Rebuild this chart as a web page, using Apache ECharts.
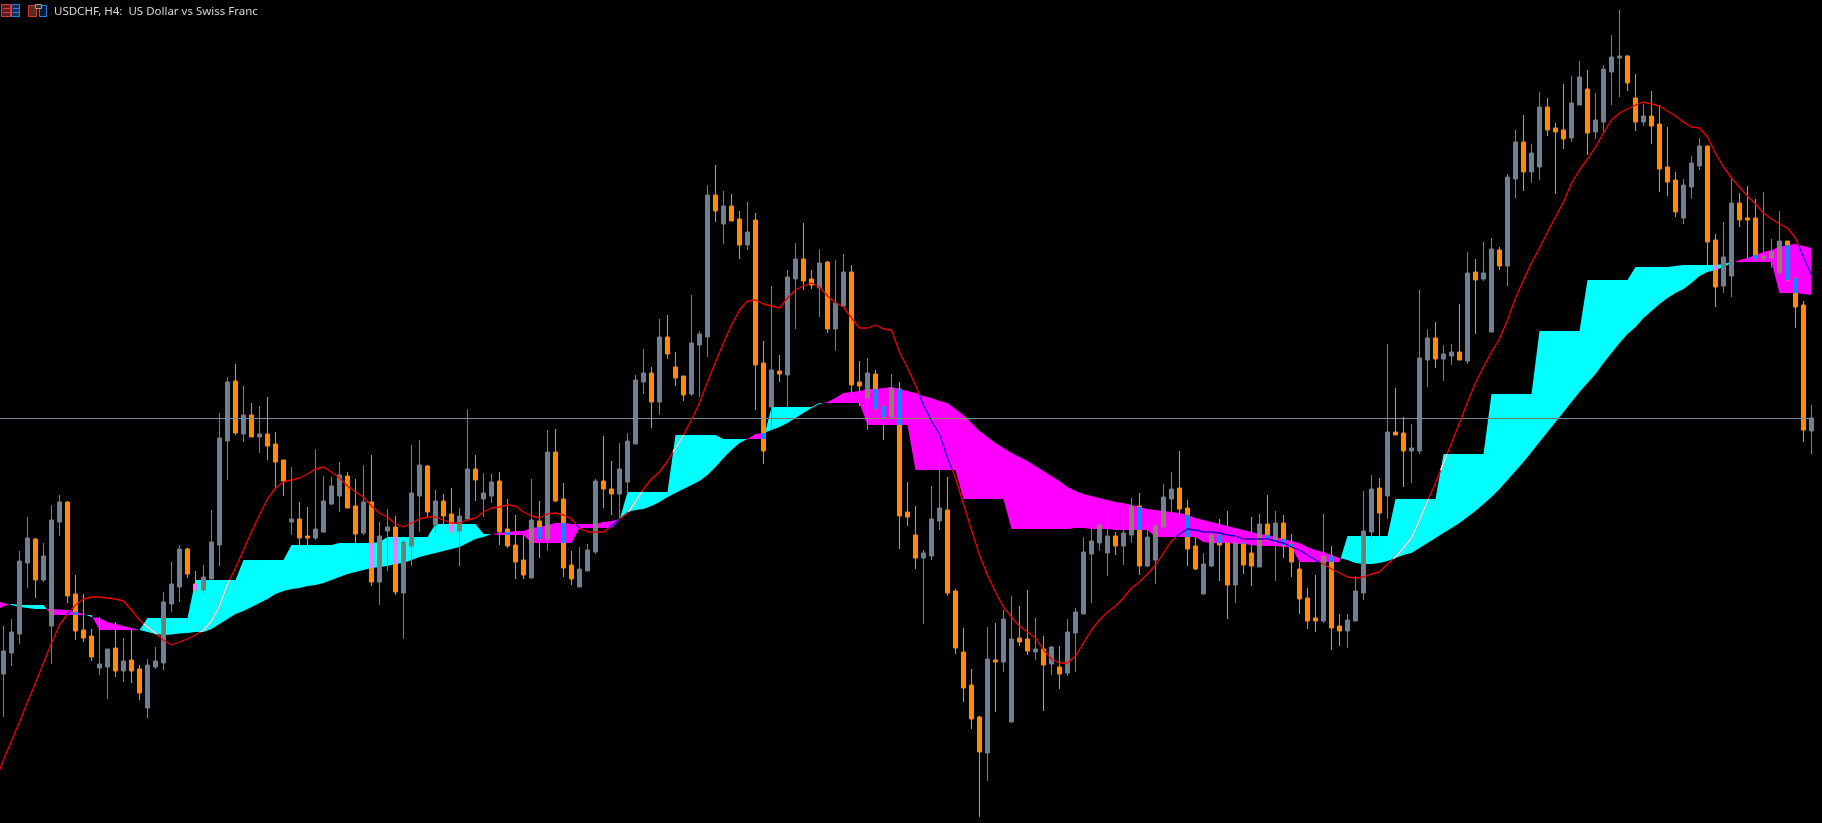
<!DOCTYPE html>
<html>
<head>
<meta charset="utf-8">
<title>USDCHF, H4</title>
<style>html,body{margin:0;padding:0;background:#000;overflow:hidden}#c{width:1822px;height:823px}</style>
<script src="https://cdn.jsdelivr.net/npm/echarts@6/dist/echarts.min.js"></script>
</head>
<body>
<div id="c"></div>
<script>
// Chart shows no price axis: values are in nominal points of the hidden price scale.
const chartTitle = 'USDCHF, H4:  US Dollar vs Swiss Franc';
const currentPrice = 404.5;
const opens = [
149,170,189,260,284,243,197,301,321,229,
193,187,155,156,175,152,163,154,115,156,
160,219,236,274,239,233,244,278,382,442,
389,408,386,389,379,363,301,304,287,285,
291,319,327,347,317,290,321,241,292,296,
230,277,327,357,298,322,309,292,304,354,
324,327,342,294,278,263,245,302,284,371,
324,258,236,252,271,342,334,329,341,379,
441,450,421,486,456,447,429,478,486,628,
599,617,604,578,603,460,416,452,448,544,
564,544,535,561,494,517,551,441,425,449,
417,406,434,311,288,265,267,302,313,232,
171,138,106,70,163,161,101,185,184,171,
174,159,156,150,190,209,269,280,270,287,
277,288,317,257,263,296,324,335,315,277,
229,257,288,280,238,280,270,256,299,281,
300,279,254,225,205,202,267,197,192,202,
230,291,335,327,391,390,372,372,463,485,
464,467,471,462,551,544,491,573,557,644,
681,651,656,716,695,693,685,718,734,691,
701,751,765,767,725,701,707,699,656,643,
605,636,657,677,583,537,547,620,605,605,
564,565,550,582,545,518,392];
const closes = [
172,191,262,285,243,267,303,321,227,192,
185,166,159,174,152,162,152,130,158,162,
221,239,274,249,233,246,281,385,441,390,
408,386,389,377,361,342,304,285,285,294,
322,337,348,315,289,321,241,287,296,231,
281,330,358,311,322,307,291,307,354,343,
330,341,291,277,261,248,303,284,371,322,
255,244,254,273,342,334,329,354,382,443,
450,421,486,469,445,428,480,489,628,612,
617,602,578,591,458,372,453,449,546,564,
542,538,560,494,520,551,438,437,450,414,
406,435,307,306,265,270,304,315,230,175,
135,104,71,164,161,204,184,181,172,174,
158,176,149,191,211,271,282,298,287,277,
290,317,257,286,297,326,334,314,274,254,
259,288,278,238,280,258,257,299,283,300,
278,261,224,202,202,267,195,192,203,232,
292,334,310,391,388,372,375,465,485,464,
469,471,463,550,543,550,574,557,646,681,
651,670,716,693,691,684,720,746,690,703,
754,766,767,740,701,707,697,654,641,611,
638,660,677,581,536,566,620,603,603,564,
567,571,582,543,516,393,405];
const lows = [
106,157,179,235,225,241,159,287,220,183,
181,162,148,124,146,141,140,123,105,154,
153,211,221,245,218,230,244,257,343,388,
381,386,370,363,334,327,288,277,259,283,
290,318,311,315,261,288,237,218,252,228,
184,257,291,305,290,289,281,257,304,322,
306,320,278,275,244,244,245,265,272,321,
246,238,236,252,269,315,308,305,329,379,
429,395,408,464,437,422,427,426,466,601,
579,602,564,573,413,359,394,441,415,494,
533,534,506,490,472,517,421,417,393,409,
383,405,274,297,254,199,263,293,227,169,
121,94,6,42,111,151,101,177,168,163,
112,148,134,147,151,209,220,272,247,268,
258,280,248,256,239,296,311,304,257,253,
229,256,242,204,220,249,237,256,283,242,
265,246,209,194,191,200,173,177,175,202,
223,284,273,304,388,336,340,369,436,455,
442,458,463,459,489,542,491,553,537,625,
632,640,643,687,629,674,681,718,668,684,
691,718,726,732,692,697,679,631,627,606,
599,624,653,558,516,530,526,596,561,563,
564,555,550,543,495,381,369];
const highs = [
197,204,272,306,285,280,318,328,322,248,
229,194,206,174,201,185,194,158,164,176,
231,261,278,275,252,258,313,410,446,459,
437,420,417,426,391,363,356,321,316,374,
347,346,361,351,344,358,368,301,314,307,
283,378,383,358,333,329,335,315,414,368,
350,349,351,324,308,288,344,322,393,394,
340,272,276,279,344,387,362,380,390,448,
474,456,504,508,471,447,528,492,638,658,
632,629,612,621,610,482,537,468,553,580,
600,553,574,562,563,569,558,462,465,453,
423,449,441,341,317,273,337,365,346,234,
195,154,107,196,200,213,227,217,233,205,
187,177,177,204,215,286,294,300,315,291,
315,325,330,298,308,339,351,372,323,286,
270,293,304,312,293,283,306,309,328,312,
308,289,261,235,248,309,277,209,209,247,
332,348,345,479,435,406,399,533,494,501,
478,479,519,571,564,581,585,576,649,693,
708,679,731,725,700,739,747,762,753,730,
758,788,813,768,749,719,732,718,696,651,
644,667,685,677,589,601,645,630,637,624,
631,584,612,582,579,522,418];
// The three lines below begin one bar left of the first visible candle.
const spanSmooth = [
223,220,218,216,215,214,214,214,213.5,213,211,209,206,205,201,199,197,195,193,191,189,188,188.5,189.5,190,
191,191,194,199,204,209,212,216,220,224,229,232,234,235,237,238,240,243,246,249,251,253,255,256,257,259,260,
263,266,268,270,272,274,276,280,284,286,289,290,291,292,292,295,296,298,300,300,299,299,299,299,301,302,304,
311,313,314,317,321,326,330,334,338,342,348,356,365,373,380,384,389,390,393,396,400,405,410,415,419,421,425,
430,431,432,434,434,435,436,434,432,430,427,425,422,420,414,408,400,392,386,380,375,370,366,362,357,352,347,
342,336,332,329,327,325,323,321,320,318,316,314,313,312,311,310,308,305,303,301,299,297,295,293,291,289,288,
286,284,282,280,276,273,271,268,265,263,260,259,259,260,262,265,268,270,275,280,285,290,295,300,306,312,319,
326,334,343,352,361,371,381,391,401,411,421,431,440,449,460,470,480,489,496,505,512,519,525,530,534,540,547,
551,553,556,560,563,565,568,571,573,576,578,579,577,575];
const spanStep = [
212,217,219,218,218,218,218,
208,208,208,208,208,208,
193,193,193,193,193,193,
205,205,205,205,205,205,
243,243,243,243,243,243,
263,263,263,263,263,263,
278,278,278,278,278,278,
280,280,280,280,280,281,
286,286,286,286,286,286,
299,299,299,299,299,299,
289,289,288,288,288,288,
280,280,280,280,280,280,
295,295,295,295,295,303,
331,331,331,331,331,331,
388,388,388,388,388,388,
384,384,384,384,384,384,
416,416,416,416,416,416,
420,420,420,420,420,420,
398,398,398,398,398,398,
353,353,353,353,353,353,
324,324,324,324,324,324,
294,294,294,294,294,294,294,294,295,295,294,294,294,293,293,293,293,293,
286,286,286,286,286,286,
281,280,280,280,279,279,278,277,277,277,276,276,
261,261,261,261,261,261,
287,287,287,287,287,287,
324,324,324,324,324,324,
369,369,369,369,369,369,
429,429,429,429,429,429,
492,492,492,492,492,492,
543,543,543,543,543,543,
556,556,556,556,556,557,
558,558,558,558,558,559,
561,561,561,561,561,561,
530,530,530,529,528];
const movingAvg = [
43,63,82,101,121,140,160,180,198,209,218,224,226,226,225,224,222,213,203,196,190,183,178,181,184,188,193,202,217,239,
255,273,291,308,324,335,341,343,345,349,354,356,351,345,337,331,326,317,310,306,299,296,300,304,306,306,303,300,300,303,
305,311,315,316,318,317,311,307,305,309,310,308,304,295,291,291,291,297,304,310,321,334,344,351,362,375,388,403,420,441,
461,480,498,513,522,523,519,517,515,525,533,537,540,536,527,520,516,505,495,495,498,494,493,471,455,438,418,402,389,365,
345,319,293,268,248,231,216,206,197,191,185,173,164,160,160,167,180,193,203,211,217,225,235,241,249,258,270,282,289,294,
293,291,291,290,288,287,284,284,284,284,282,280,276,273,268,263,259,254,250,246,245,246,249,251,259,266,275,285,303,322,
340,360,380,400,421,440,456,471,484,503,525,543,560,575,591,606,621,640,653,664,676,690,703,710,714,718,721,719,717,712,
707,701,696,695,686,670,656,645,636,627,619,610,604,599,595,585,566,548];

const greyCandle = 0x708090, orangeCandle = 0xFF8C00, redLine = 0xF00000, priceLine = 0x778899;
const CYAN = 0x00FFFF, MAGENTA = 0xFF00FF;
const hex = n => '#' + (n & 0xffffff).toString(16).padStart(6, '0');
const lerp = (a, b, t) => a + (b - a) * t;

// Candle entries are shifted by one to line up with the leading cloud/line point.
const categories = spanSmooth.map((_, i) => String(i));
const candleData = [['-', '-', '-', '-']].concat(opens.map((o, i) => [o, closes[i], lows[i], highs[i]]));
const indices = categories.map((_, i) => [i]);

// Splits cloud segment j -> j+1 at the point where the two spans cross.
function cloudPieces(j) {
  const d0 = spanStep[j] - spanSmooth[j], d1 = spanStep[j + 1] - spanSmooth[j + 1];
  if (d0 * d1 < 0) {
    const c = d0 / (d0 - d1);
    return [{ t0: 0, t1: c, color: d0 > 0 ? CYAN : MAGENTA }, { t0: c, t1: 1, color: d1 > 0 ? CYAN : MAGENTA }];
  }
  return [{ t0: 0, t1: 1, color: (d0 + d1) > 0 ? CYAN : MAGENTA }];
}

// One polygon per contiguous same-colour run so that no seams show between bars.
function renderCloud(params, api) {
  if (api.value(0) !== 0) return null;
  const runs = [];
  for (let j = 0; j < categories.length - 1; j++) {
    const x0 = api.coord([j, 0])[0], x1 = api.coord([j + 1, 0])[0];
    cloudPieces(j).forEach(p => {
      let run = runs[runs.length - 1];
      if (!run || run.color !== p.color) { run = { color: p.color, upper: [], lower: [] }; runs.push(run); }
      [p.t0, p.t1].forEach(t => {
        const x = lerp(x0, x1, t);
        run.upper.push([x, api.coord([j, lerp(spanSmooth[j], spanSmooth[j + 1], t)])[1]]);
        run.lower.push([x, api.coord([j, lerp(spanStep[j], spanStep[j + 1], t)])[1]]);
      });
    });
  }
  return {
    type: 'group',
    children: runs.map(r => ({
      type: 'polygon',
      shape: { points: r.upper.concat(r.lower.slice().reverse()) },
      style: { fill: hex(r.color) }
    }))
  };
}

// The terminal paints candles and lines over the cloud by XOR-ing colours.
function renderCandleOverlap(params, api) {
  const k = api.value(0);
  if (k === 0) return null;
  const b = candleData[k];
  const top = Math.max(spanSmooth[k], spanStep[k]), bot = Math.min(spanSmooth[k], spanStep[k]);
  if (top <= bot) return null;
  const cloud = spanStep[k] > spanSmooth[k] ? CYAN : MAGENTA;
  const base = b[1] >= b[0] ? greyCandle : orangeCandle;
  const fill = hex(cloud ^ base);
  const cx = api.coord([k, 0])[0];
  const band = (hi, lo, left, w) => {
    const h = Math.min(hi, top), l = Math.max(lo, bot);
    if (h <= l) return null;
    const y0 = Math.round(api.coord([k, h])[1]), y1 = Math.round(api.coord([k, l])[1]);
    return { type: 'rect', shape: { x: left, y: y0, width: w, height: y1 - y0 }, style: { fill } };
  };
  const children = [
    band(b[3], b[2], cx - 0.5, 1),
    band(Math.max(b[0], b[1]), Math.min(b[0], b[1]), cx - 2.5, 5)
  ].filter(Boolean);
  return { type: 'group', children };
}

function lineOverlap(values, baseColor, width) {
  return function (params, api) {
    const j = api.value(0);
    if (j >= categories.length - 1) return null;
    const x0 = api.coord([j, 0])[0], x1 = api.coord([j + 1, 0])[0];
    const children = [];
    cloudPieces(j).forEach(p => {
      let a = p.t0, z = p.t1;
      const v = t => lerp(values[j], values[j + 1], t);
      const s = t => lerp(spanSmooth[j], spanSmooth[j + 1], t);
      const q = t => lerp(spanStep[j], spanStep[j + 1], t);
      [s, q].forEach(edge => {
        const sign = (p.color === CYAN) === (edge === s) ? 1 : -1;
        // sign 1: line must stay above this edge; sign -1: below it.
        const fa = sign * (v(a) - edge(a)), fz = sign * (v(z) - edge(z));
        if (fa < 0 && fz < 0) { z = a; return; }
        if (fa < 0) a = a + (z - a) * (fa / (fa - fz));
        else if (fz < 0) z = a + (z - a) * (fa / (fa - fz));
      });
      if (z > a) {
        children.push({
          type: 'line',
          shape: { x1: lerp(x0, x1, a), y1: api.coord([j, v(a)])[1], x2: lerp(x0, x1, z), y2: api.coord([j, v(z)])[1] },
          style: { stroke: hex(p.color ^ baseColor), lineWidth: width }
        });
      }
    });
    return { type: 'group', children };
  };
}

const priceSeries = categories.map(() => currentPrice);

const rect = (x, y, w, h, fill, stroke) => ({ type: 'rect', silent: true, shape: { x, y, width: w, height: h }, style: { fill: fill || 'transparent', stroke: stroke || null, lineWidth: 1 } });
const toolbarIcons = [
  rect(1.5, 4.5, 9, 12, '#5a1c1c', '#d83a3a'), rect(11.5, 4.5, 8, 12, '#12305a', '#2f7fe6'),
  rect(3, 8, 7, 1, '#d83a3a'), rect(3, 12, 7, 1, '#d83a3a'), rect(13, 8, 6, 1, '#2f7fe6'), rect(13, 12, 6, 1, '#2f7fe6'),
  rect(28.5, 5.5, 8, 11, '#5a2a20', '#d83a3a'), rect(39.5, 5.5, 7, 11, '#0c1c34', '#2f7fe6'),
  rect(35.5, 4.5, 6, 4, '#2a2a2a', '#a0a0a0')
];

const chart = echarts.init(document.getElementById('c'), null, { renderer: 'canvas', width: 1822, height: 823 });
chart.setOption({
  animation: false,
  backgroundColor: '#000000',
  title: { text: chartTitle, left: 54, top: 6, padding: 0, textStyle: { color: '#d6d6d6', fontFamily: 'Noto Sans', fontSize: 11.5, fontWeight: 'normal' } },
  graphic: toolbarIcons,
  grid: { left: -8.5, top: 0, width: 1824, height: 823, containLabel: false, show: false, outerBoundsMode: 'none' },
  xAxis: { type: 'category', data: categories, show: false, boundaryGap: true },
  yAxis: { type: 'value', min: 0, max: 823, show: false, splitLine: { show: false } },
  series: [
    { name: 'Cloud', type: 'custom', data: indices, encode: { x: 0 }, renderItem: renderCloud, z: 1, silent: true },
    { name: 'Price', type: 'candlestick', data: candleData, barWidth: 5, z: 2, silent: true,
      itemStyle: { color: hex(greyCandle), color0: hex(orangeCandle), borderColor: hex(greyCandle), borderColor0: hex(orangeCandle), borderWidth: 1 } },
    { name: 'Candle overlap', type: 'custom', data: indices, encode: { x: 0 }, renderItem: renderCandleOverlap, z: 3, silent: true },
    { name: 'Current price', type: 'line', data: priceSeries, showSymbol: false, z: 4, silent: true, lineStyle: { color: hex(priceLine), width: 1 } },
    { name: 'Current price overlap', type: 'custom', data: indices, encode: { x: 0 }, renderItem: lineOverlap(priceSeries, priceLine, 1), z: 5, silent: true },
    { name: 'Moving average', type: 'line', data: movingAvg, showSymbol: false, z: 6, silent: true, lineStyle: { color: hex(redLine), width: 1.3 } },
    { name: 'Average overlap', type: 'custom', data: indices, encode: { x: 0 }, renderItem: lineOverlap(movingAvg, redLine, 1.3), z: 7, silent: true }
  ]
});
</script>
</body>
</html>
